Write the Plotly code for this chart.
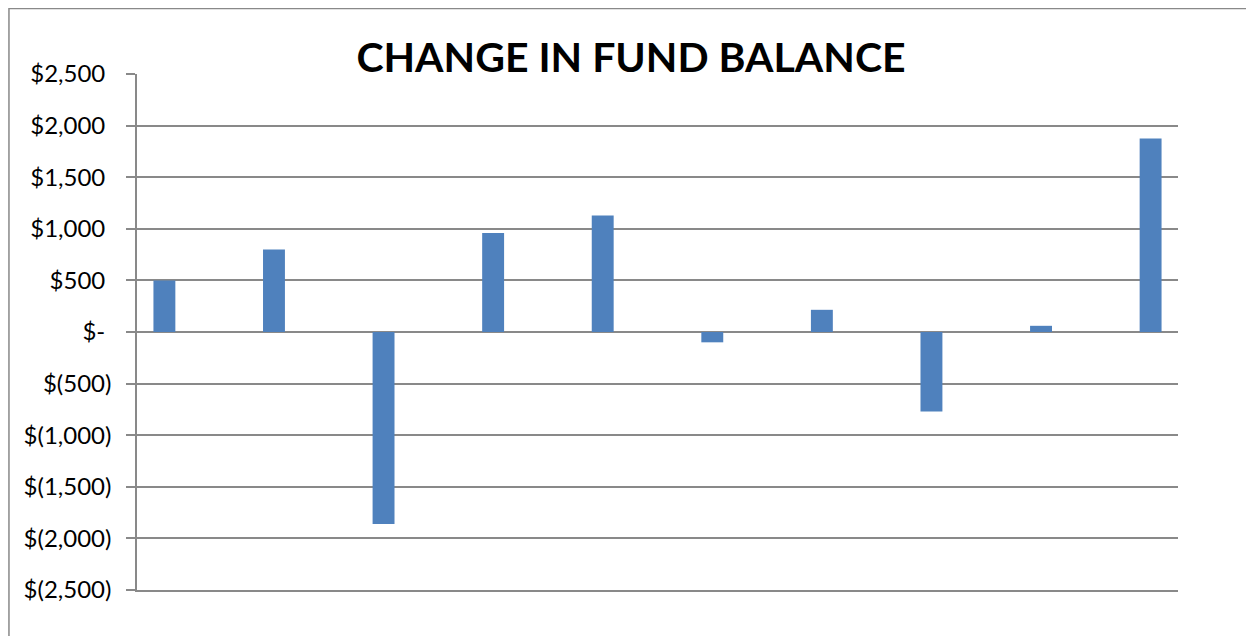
import plotly.graph_objects as go

# one bar per period, values in dollars
periods = [1, 2, 3, 4, 5, 6, 7, 8, 9, 10]
change = [500, 800, -1860, 960, 1130, -100, 215, -770, 60, 1875]

tick_vals = [2500, 2000, 1500, 1000, 500, 0, -500, -1000, -1500, -2000, -2500]
tick_text = ["$2,500\u00a0", "$2,000\u00a0", "$1,500\u00a0", "$1,000\u00a0", "$500\u00a0",
             "$-\u00a0", "$(500)", "$(1,000)", "$(1,500)", "$(2,000)", "$(2,500)"]

GRID = "#898989"
BAR = "#4F81BD"

fig = go.Figure(go.Bar(x=periods, y=change, width=0.2,
                       marker_color=BAR, marker_line_width=0,
                       showlegend=False))

# page body has an 8px margin, so the figure is 8px smaller than the window
fig.update_layout(
    width=1246, height=628,
    margin=dict(l=129, r=76, t=66, b=46),
    paper_bgcolor="white", plot_bgcolor="white",
    font=dict(family="Lato, Carlito, Calibri, sans-serif", color="black"),
    title=dict(text="<b>CHANGE IN FUND BALANCE</b>",
               font=dict(size=41, family="Lato, Calibri, sans-serif", color="black"),
               x=0.5, xref="container", xanchor="center",
               y=0.9204, yref="container", yanchor="middle"),
)

# bottom line stands in for the -2500 gridline, which plotly drops at the edge
fig.update_xaxes(range=[0.75, 10.25], showgrid=False, zeroline=False,
                 showticklabels=False, ticks="",
                 showline=True, linecolor=GRID, linewidth=1.5)
fig.update_yaxes(range=[-2500, 2500], tickvals=tick_vals, ticktext=tick_text,
                 showgrid=True, gridcolor=GRID, gridwidth=1.5,
                 zeroline=True, zerolinecolor=GRID, zerolinewidth=1.5,
                 showline=True, linecolor=GRID, linewidth=1.5,
                 ticks="outside", ticklen=9, tickcolor=GRID, tickwidth=1.5,
                 ticklabelstandoff=10,
                 tickfont=dict(size=24, color="black"))

# chart-area border (only the top and left edges fall inside the picture)
fig.add_shape(type="rect", xref="paper", yref="paper",
              x0=-0.123, x1=1.3, y0=-0.3, y1=1.127,
              line=dict(color=GRID, width=1.5), layer="below")

fig.write_html("out.html")
